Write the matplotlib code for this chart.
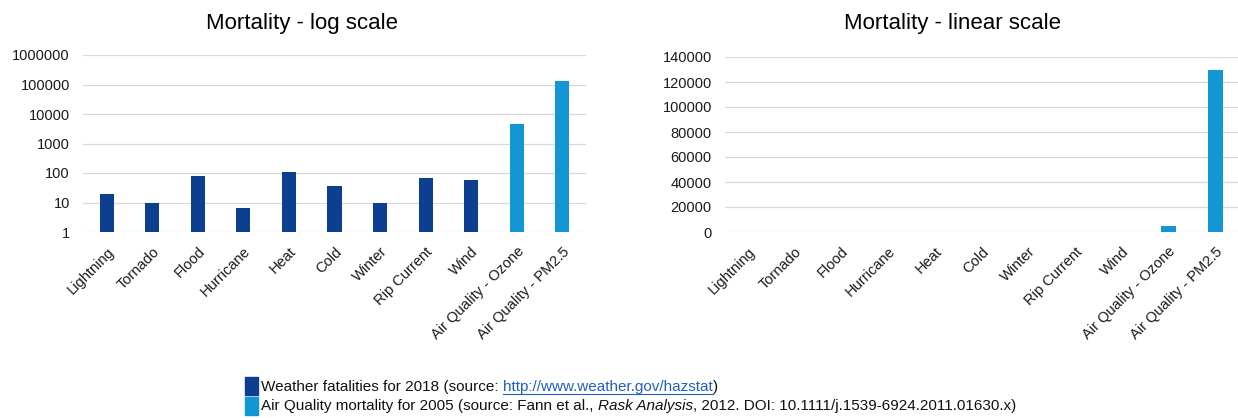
import matplotlib
matplotlib.use("Agg")
import matplotlib.pyplot as plt
from matplotlib.patches import Rectangle

plt.rcParams['font.family'] = ['Liberation Sans', 'DejaVu Sans']

# data
categories = ['Lightning', 'Tornado', 'Flood', 'Hurricane', 'Heat', 'Cold', 'Winter',
              'Rip Current', 'Wind', 'Air Quality - Ozone', 'Air Quality - PM2.5']
deaths = [20, 10, 80, 6.5, 108, 35, 10, 68, 56, 4500, 130000]
is_air = [False] * 9 + [True, True]

log_ticks = [1, 10, 100, 1000, 10000, 100000, 1000000]
lin_ticks = [0, 20000, 40000, 60000, 80000, 100000, 120000, 140000]

dark = '#0c3f8f'
light = '#1296d4'
colors = [light if a else dark for a in is_air]

fig = plt.figure(figsize=(12.38, 4.18), dpi=100)
W, H = 1238, 418

def box(x0, x1, ytop, ybot):
    return [x0 / W, 1 - ybot / H, (x1 - x0) / W, (ybot - ytop) / H]

ax1 = fig.add_axes(box(83, 586, 55, 232))
ax2 = fig.add_axes(box(725, 1238, 57, 232))

x = list(range(len(categories)))

# log chart
ax1.set_yscale('log')
ax1.bar(x, [d - 1 for d in deaths], bottom=1, width=0.31, color=colors)
ax1.set_ylim(1, 1e6)
ax1.set_yticks(log_ticks)
ax1.set_yticklabels([str(t) for t in log_ticks])
ax1.minorticks_off()
ax1.set_xlim(-0.52, 10.52)

# linear chart
ax2.bar(x, deaths, width=0.32, color=colors)
ax2.set_ylim(0, 140000)
ax2.set_yticks(lin_ticks)
ax2.set_yticklabels([str(t) for t in lin_ticks])
ax2.set_xlim(-0.49, 10.49)

for ax in (ax1, ax2):
    ax.set_xticks(x)
    ax.set_xticklabels(categories, rotation=45, ha='right', rotation_mode='anchor',
                       fontsize=10.5, color='#1a1a1a')
    ax.tick_params(axis='y', labelsize=10.5, labelcolor='#1a1a1a', length=0, pad=9.5)
    ax.tick_params(axis='x', length=0, pad=9)
    for s in ax.spines.values():
        s.set_visible(False)
    ax.grid(axis='y', color='#d9d9d9', linewidth=0.9)
    ax.set_axisbelow(True)

fig.text(302 / W, 1 - 23 / H, 'Mortality - log scale', ha='center', va='center', fontsize=16)
fig.text(953 / W, 1 - 23 / H, 'Mortality - linear scale', ha='center', va='center', fontsize=16)

# legend
fig.patches.append(Rectangle((245 / W, 1 - 395 / H), 13 / W, 18 / H, transform=fig.transFigure,
                             color=dark, figure=fig))
fig.patches.append(Rectangle((245 / W, 1 - 415 / H), 13 / W, 18 / H, transform=fig.transFigure,
                             color=light, figure=fig))

renderer = fig.canvas.get_renderer()

def line(pieces, x0, yc):
    xp = x0
    for txt, kw in pieces:
        opts = dict(color='#111111')
        opts.update(kw)
        link = opts.pop('link', False)
        t = fig.text(xp / W, 1 - yc / H, txt, ha='left', va='center', fontsize=11, **opts)
        ext = t.get_window_extent(renderer)
        if link:
            yl = 1 - (yc + 7) / H
            fig.add_artist(plt.Line2D([xp / W, (xp + ext.width) / W], [yl, yl],
                                      transform=fig.transFigure, color=opts['color'], lw=0.8))
        xp += ext.width

line([('Weather fatalities for 2018 (source: ', {}),
      ('http://www.weather.gov/hazstat', {'color': '#1f5fbf', 'link': True}),
      (')', {})], 261, 387)
line([('Air Quality mortality for 2005 (source: Fann et al., ', {}),
      ('Rask Analysis', {'style': 'italic'}),
      (', 2012. DOI: 10.1111/j.1539-6924.2011.01630.x)', {})], 261, 406)

fig.savefig('out.png', dpi=100)
